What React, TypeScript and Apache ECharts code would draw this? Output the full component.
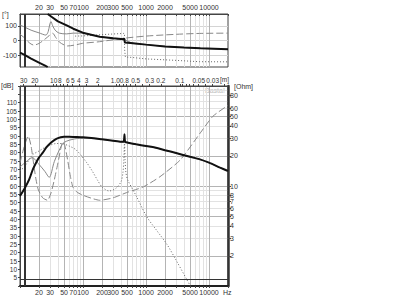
import React, { useEffect, useRef } from "react";
import * as echarts from "echarts";

// ---- axis ticks / labels ----
const freqLabels = [20, 30, 50, 70, 100, 200, 300, 500, 1000, 2000, 5000, 10000];
const majorGridFreqs = [20, 50, 100, 200, 500, 1000, 2000, 5000, 10000];
const minorGridFreqs = [
  30, 40, 60, 70, 80, 90, 300, 400, 600, 700, 800, 900, 3000, 4000, 6000, 7000, 8000, 9000,
];
const smallTickFreqs = [
  10, 20, 30, 40, 50, 60, 70, 80, 90, 100, 200, 300, 400, 500, 600, 700, 800, 900, 1000, 2000,
  3000, 4000, 5000, 6000, 7000, 8000, 9000, 10000, 20000,
];
const wavelengthLabels = ["30", "20", "10", "8", "6", "5", "4", "3", "2", "1.0", "0.8", "0.5", "0.3", "0.2", "0.1", "0.05", "0.03"];
const wavelengthTicks = [30, 20, 10, 9, 8, 7, 6, 5, 4, 3, 2, 1, 0.9, 0.8, 0.7, 0.6, 0.5, 0.4, 0.3, 0.2, 0.1, 0.09, 0.08, 0.07, 0.06, 0.05, 0.04, 0.03, 0.02];
const SOUND_SPEED = 343;
const phaseLabels = [-100, 0, 100];
const ohmLabels = [2, 3, 4, 5, 6, 7, 8, 10, 20, 30, 40, 50, 60, 80];
const ohmMajorGrid = [2, 5, 10, 20, 50];
const ohmMinorGrid = [3, 4, 6, 7, 8, 9, 30, 40, 60, 70, 80, 90];

// ---- SPL, total (dB) ----
const totalFreq = [10, 12, 14, 16, 18, 20, 23, 26, 30, 35, 40, 50, 60, 80, 100, 150, 200, 300, 400, 440, 450, 455, 460, 470, 520, 700, 1000, 1500, 2000, 3000, 5000, 7000, 10000, 15000, 20000];
const totalSpl = [54, 59, 64, 70, 74, 77, 80, 83, 85.5, 87.5, 88.7, 89.5, 89.6, 89.4, 89.2, 88.6, 88, 87.2, 86.6, 86.6, 88.5, 91, 88, 86.4, 86, 85, 84, 82.8, 81.5, 79.8, 77.5, 76.1, 74, 71, 69];

// ---- SPL, driver (dB) ----
const driverFreq = [10, 12.5, 15.6, 20, 25, 29, 35, 42, 49, 61, 88, 120, 200, 300, 400, 520, 700, 1000, 1500, 2000, 3000, 5000, 7000, 10000, 15000, 20000];
const driverSpl = [71.5, 74.5, 77, 73, 68.6, 65.2, 74.6, 81.6, 85.8, 87.5, 88.6, 88.6, 87.9, 87.1, 86.5, 85.9, 84.9, 83.9, 82.7, 81.4, 79.7, 77.4, 76, 73.9, 70.9, 68.9];

// ---- SPL, port (dB) ----
const portFreq = [10, 12, 15.7, 20, 25, 30, 38, 45, 60, 78, 112, 140, 170, 200, 260, 330, 400, 430, 445, 455, 465, 480, 513, 700, 1026, 1500, 2146, 3000, 4480, 5060, 6000];
const portSpl = [69, 72, 78.6, 81, 83.2, 84.5, 85.5, 85.5, 84, 81.6, 74.5, 69, 63.5, 59.5, 57, 58.5, 62.5, 68, 76, 86.5, 76, 68, 63.6, 54, 41.6, 33, 25, 15.5, 3.6, 0, -5];

// ---- impedance (Ohm) ----
const impFreq = [10, 11.5, 13.5, 15, 16.7, 18, 19.6, 23, 27.3, 31, 35, 40, 44, 47.6, 51, 57, 63, 69, 80, 99, 140, 184, 297, 494, 905, 1668, 3484, 7278, 11600, 20000];
const impOhm = [17, 24, 31.6, 25, 15.6, 11.5, 9.1, 7.6, 7.2, 8.5, 11.5, 17, 23, 27.8, 26, 18.2, 12.5, 9.8, 8.7, 8.1, 7.5, 7.2, 7.6, 8.6, 9.8, 12.4, 18.2, 34, 50, 64];

// ---- phase (deg), wrapped; null splits a wrap ----
const totalPhaseFreq = [10, 12, 15, 20, 25, 27.5, 27.5, 27.5, 32, 40, 54, 70, 99, 140, 184, 300, 440, 450, 455, 462, 470, 620, 1000, 2000, 4000, 7278, 20000];
const totalPhase = [-82, -100, -123, -150, -170, -180, null, 180, 160, 130, 105, 80, 53, 38, 26, 15, 8, 14, 2, -14, -12, -19, -28, -40, -48, -53, -60];

const driverPhaseFreq = [10, 12, 15, 20, 25.7, 28, 29.5, 31, 33, 36, 42, 55, 70, 99, 140, 184, 300, 440, 620, 1000, 2000, 4000, 7278, 20000];
const driverPhase = [105, 90, 70, 52, 37, 60, 105, 128, 100, 71, 50, 45, 50, 50, 38, 26, 15, 8, -19, -28, -40, -48, -53, -60];

const impPhaseFreq = [10, 12, 14, 16.5, 20, 25, 29, 31, 33, 37, 42, 50, 57, 80, 99, 184, 440, 1000, 3000, 7000, 20000];
const impPhase = [42, 15, -15, -31, -20, 10, 33, 45, 49, 20, -10, -30, -37, -28, -19, -8, 15, 30, 42, 48, 50];

const portPhaseFreq = [75, 100, 200, 440, 455, 457, 470, 600, 1000, 3000, 7000, 20000];
const portPhase = [30, 31, 40, 48, 49, -60, -112, -115, -125, -135, -144, -145];

const lg = (v: number) => Math.log10(v);
const X_MIN = lg(10);
const X_MAX = lg(20000);

const pairs = (fs: number[], vs: (number | null)[], map: (v: number) => number = (v) => v) =>
  fs.map((f, i) => (vs[i] === null ? [lg(f), "-"] : [lg(f), map(vs[i] as number)]));

const FONT = "Liberation Sans";
const TEXT_COLOR = "#333";
const LABEL = { fontFamily: FONT, fontSize: 7, color: TEXT_COLOR };
const MAJOR_GRID = "#b4b4b4";
const MINOR_GRID = "#e2e2e2";

const nearestLabel = (v: number, values: number[], texts: string[]) => {
  let best = 0;
  for (let i = 1; i < values.length; i++) {
    if (Math.abs(values[i] - v) < Math.abs(values[best] - v)) best = i;
  }
  return texts[best];
};

const freqPos = freqLabels.map(lg);
const freqText = freqLabels.map(String);
// the "1.0" / "0.8" pair sits very close together; spread their labels a little
const wlPos = wavelengthLabels.map((s) => {
  const p = lg(SOUND_SPEED / parseFloat(s));
  if (s === "1.0") return p - 0.022;
  if (s === "0.8") return p + 0.022;
  return p;
});
const wlTickPos = wavelengthTicks.map((w) => lg(SOUND_SPEED / w)).sort((a, b) => a - b);
const ohmPos = ohmLabels.map(lg);
const ohmText = ohmLabels.map(String);

function gridXAxis(gridIndex: number, values: number[], color: string, position: "top" | "bottom") {
  return {
    type: "value",
    gridIndex,
    position,
    min: X_MIN,
    max: X_MAX,
    axisLine: { show: false, onZero: false },
    axisTick: { show: false, customValues: values.map(lg) },
    axisLabel: { show: false },
    splitLine: { show: true, lineStyle: { color, width: 1 } },
  };
}

function gridYAxis(gridIndex: number, values: number[], color: string) {
  return {
    type: "value",
    gridIndex,
    position: "right",
    min: 0,
    max: 2,
    axisLine: { show: false, onZero: false },
    axisTick: { show: false, customValues: values.map(lg) },
    axisLabel: { show: false },
    splitLine: { show: true, lineStyle: { color, width: 1 } },
  };
}

const markerLine = {
  silent: true,
  symbol: "none",
  label: { show: false },
  lineStyle: { color: "#333", width: 1, type: "solid" },
  data: [{ xAxis: lg(11.6) }, { xAxis: lg(12.3) }],
};

export default function App() {
  const ref = useRef<HTMLDivElement>(null);

  useEffect(() => {
    if (!ref.current) return;
    const chart = echarts.init(ref.current, undefined, { renderer: "svg" });
    chart.setOption({
      animation: false,
      backgroundColor: "#fff",
      textStyle: { fontFamily: FONT, color: TEXT_COLOR },
      grid: [
        { left: 20, top: 14, width: 208, height: 53, show: true, borderColor: "#444", borderWidth: 1, containLabel: false },
        { left: 20, top: 86, width: 208, height: 200, show: true, borderColor: "#444", borderWidth: 1, containLabel: false },
      ],
      xAxis: [
        {
          type: "value",
          gridIndex: 0,
          position: "top",
          min: X_MIN,
          max: X_MAX,
          axisLine: { show: true, onZero: false, lineStyle: { color: "#444", width: 1 } },
          axisTick: { show: true, inside: true, length: 2, customValues: smallTickFreqs.map(lg), lineStyle: { color: "#444" } },
          splitLine: { show: false },
          axisLabel: {
            ...LABEL,
            margin: 3,
            customValues: freqPos,
            formatter: (v: number) => nearestLabel(v, freqPos, freqText),
          },
        },
        gridXAxis(0, minorGridFreqs, MINOR_GRID, "top"),
        gridXAxis(0, majorGridFreqs, MAJOR_GRID, "top"),
        {
          type: "value",
          gridIndex: 1,
          position: "bottom",
          min: X_MIN,
          max: X_MAX,
          axisLine: { show: true, onZero: false, lineStyle: { color: "#222", width: 2 } },
          axisTick: { show: true, length: 2, customValues: smallTickFreqs.map(lg), lineStyle: { color: "#444" } },
          splitLine: { show: false },
          axisLabel: {
            ...LABEL,
            margin: 3,
            customValues: freqPos,
            formatter: (v: number) => nearestLabel(v, freqPos, freqText),
          },
        },
        gridXAxis(1, minorGridFreqs, MINOR_GRID, "bottom"),
        gridXAxis(1, majorGridFreqs, MAJOR_GRID, "bottom"),
        {
          type: "value",
          gridIndex: 1,
          position: "top",
          min: X_MIN,
          max: X_MAX,
          axisLine: { show: true, onZero: false, lineStyle: { color: "#444", width: 1 } },
          axisTick: { show: true, length: 2, customValues: wlTickPos, lineStyle: { color: "#444" } },
          splitLine: { show: false },
          axisLabel: {
            ...LABEL,
            fontSize: 6.5,
            margin: 2,
            customValues: wlPos,
            formatter: (v: number) => nearestLabel(v, wlPos, wavelengthLabels),
          },
        },
      ],
      yAxis: [
        {
          type: "value",
          gridIndex: 0,
          min: -180,
          max: 180,
          axisLine: { show: true, onZero: false, lineStyle: { color: "#444" } },
          axisTick: { show: true, length: 2, customValues: phaseLabels, lineStyle: { color: "#444" } },
          axisLabel: { ...LABEL, margin: 3, customValues: phaseLabels },
          splitLine: { show: true, lineStyle: { color: "#d4d4d4" } },
        },
        {
          type: "value",
          gridIndex: 1,
          min: 0,
          max: 120,
          interval: 5,
          axisLine: { show: true, onZero: false, lineStyle: { color: "#444" } },
          axisTick: { show: true, length: 2, lineStyle: { color: "#444" } },
          axisLabel: {
            ...LABEL,
            fontSize: 6.5,
            margin: 3,
            formatter: (v: number) => (v < 5 || v > 110 ? "" : String(v)),
          },
          splitLine: { show: false },
        },
        {
          type: "value",
          gridIndex: 1,
          position: "right",
          min: 0,
          max: 2,
          axisLine: { show: true, onZero: false, lineStyle: { color: "#333", width: 2.5 } },
          axisTick: { show: true, length: 3, customValues: ohmPos, lineStyle: { color: "#444" } },
          axisLabel: {
            ...LABEL,
            margin: 2,
            customValues: ohmPos,
            formatter: (v: number) => nearestLabel(v, ohmPos, ohmText),
          },
          splitLine: { show: false },
        },
        gridYAxis(1, ohmMinorGrid, MINOR_GRID),
        gridYAxis(1, ohmMajorGrid, MAJOR_GRID),
      ],
      series: [
        {
          name: "port phase",
          type: "line",
          xAxisIndex: 0,
          yAxisIndex: 0,
          showSymbol: false,
          data: pairs(portPhaseFreq, portPhase),
          lineStyle: { color: "#666", width: 1, type: [1, 2] },
          z: 3,
        },
        {
          name: "impedance phase",
          type: "line",
          xAxisIndex: 0,
          yAxisIndex: 0,
          showSymbol: false,
          smooth: 0.3,
          data: pairs(impPhaseFreq, impPhase),
          lineStyle: { color: "#888", width: 1, type: [7, 3] },
          z: 3,
        },
        {
          name: "driver phase",
          type: "line",
          xAxisIndex: 0,
          yAxisIndex: 0,
          showSymbol: false,
          smooth: 0.3,
          data: pairs(driverPhaseFreq, driverPhase),
          lineStyle: { color: "#888", width: 1 },
          z: 4,
        },
        {
          name: "total phase",
          type: "line",
          xAxisIndex: 0,
          yAxisIndex: 0,
          showSymbol: false,
          connectNulls: false,
          data: pairs(totalPhaseFreq, totalPhase),
          lineStyle: { color: "#111", width: 2 },
          markLine: markerLine,
          z: 5,
        },
        {
          name: "port",
          type: "line",
          xAxisIndex: 3,
          yAxisIndex: 1,
          showSymbol: false,
          smooth: 0.3,
          data: pairs(portFreq, portSpl),
          lineStyle: { color: "#666", width: 1, type: [1, 2] },
          z: 3,
        },
        {
          name: "impedance",
          type: "line",
          xAxisIndex: 3,
          yAxisIndex: 2,
          showSymbol: false,
          smooth: 0.2,
          data: pairs(impFreq, impOhm, lg),
          lineStyle: { color: "#888", width: 1, type: [7, 3] },
          z: 3,
        },
        {
          name: "driver",
          type: "line",
          xAxisIndex: 3,
          yAxisIndex: 1,
          showSymbol: false,
          smooth: 0.3,
          data: pairs(driverFreq, driverSpl),
          lineStyle: { color: "#888", width: 1 },
          z: 4,
        },
        {
          name: "total",
          type: "line",
          xAxisIndex: 3,
          yAxisIndex: 1,
          showSymbol: false,
          smooth: 0.2,
          data: pairs(totalFreq, totalSpl),
          lineStyle: { color: "#111", width: 2 },
          markLine: {
            ...markerLine,
            data: [...markerLine.data, { yAxis: 4.2 }],
          },
          z: 5,
        },
      ],
      graphic: [
        { type: "text", left: 2, top: 11, style: { text: "[°]", font: `7px ${FONT}`, fill: TEXT_COLOR } },
        { type: "text", left: 1, top: 82, style: { text: "[dB]", font: `7px ${FONT}`, fill: TEXT_COLOR } },
        { type: "text", left: 220, top: 76, style: { text: "[m]", font: `6.5px ${FONT}`, fill: TEXT_COLOR } },
        { type: "text", left: 234, top: 83, style: { text: "[Ohm]", font: `7px ${FONT}`, fill: TEXT_COLOR } },
        { type: "text", left: 223, top: 289, style: { text: "Hz", font: `7px ${FONT}`, fill: TEXT_COLOR } },
        { type: "text", left: 205, top: 87, style: { text: "Basta!", font: `7px ${FONT}`, fill: "#bbb" } },
      ],
    });
    return () => chart.dispose();
  }, []);

  return (
    <div
      ref={ref}
      style={{ position: "fixed", left: 0, top: 0, width: 400, height: 304, background: "#fff" }}
    />
  );
}
